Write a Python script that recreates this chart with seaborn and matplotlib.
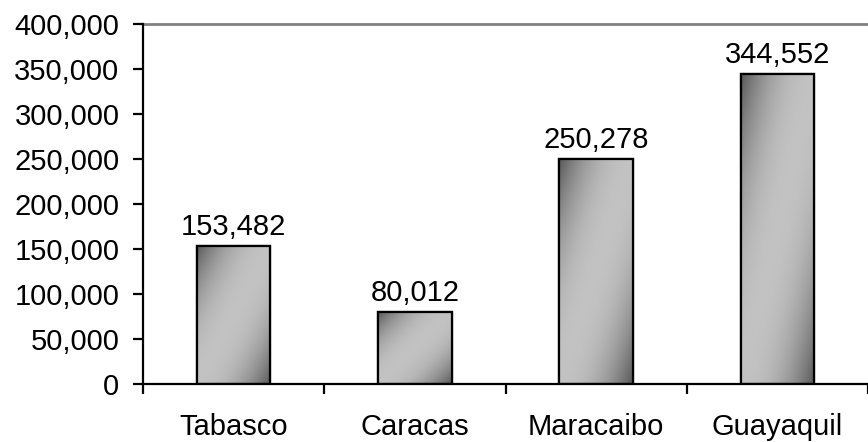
import numpy as np
import pandas as pd
import seaborn as sns
import matplotlib.pyplot as plt
from matplotlib.ticker import FuncFormatter, FixedLocator

cities = ['Tabasco', 'Caracas', 'Maracaibo', 'Guayaquil']
values = [153482, 80012, 250278, 344552]

df = pd.DataFrame({'city': cities, 'value': values})

sns.set_style('white')
plt.rcParams['font.family'] = ['Liberation Sans', 'DejaVu Sans']
plt.rcParams['text.color'] = 'black'
plt.rcParams['xtick.color'] = 'black'
plt.rcParams['ytick.color'] = 'black'

fig = plt.figure(figsize=(8.68, 4.42), dpi=100)
ax = fig.add_axes([143 / 868, 1 - 384 / 442, 725 / 868, 360 / 442])

sns.barplot(data=df, x='city', y='value', ax=ax, width=0.405,
            color='#c0c0c0', edgecolor='black', linewidth=1.6, zorder=2)

# diagonal gradient fill: dark at top-left and bottom-right, light in the middle
n = 200
u, v = np.meshgrid(np.linspace(0, 1, n), np.linspace(1, 0, n))
t = (u + (1 - v)) / 2
f = 1 - np.abs(2 * t - 1) ** 2.2
grad = 0.34 + (0.76 - 0.34) * f
for bar in ax.patches:
    x0, y0 = bar.get_x(), bar.get_y()
    w, h = bar.get_width(), bar.get_height()
    im = ax.imshow(grad, cmap='gray', vmin=0, vmax=1, aspect='auto',
                   extent=[x0, x0 + w, y0, y0 + h], zorder=2.5,
                   interpolation='bilinear')
    im.set_clip_path(bar)
    ax.add_patch(plt.Rectangle((x0, y0), w, h, fill=False,
                               edgecolor='black', linewidth=1.6, zorder=3))

for i, val in enumerate(values):
    ax.text(i, val + 5000, f'{val:,}', ha='center', va='bottom', fontsize=21)

ax.set_xlim(-0.5, 3.5)
ax.set_ylim(0, 400000)
ax.set_yticks(range(0, 400001, 50000))
ax.yaxis.set_major_formatter(FuncFormatter(lambda y, p: f'{int(y):,}'))
ax.axhline(400000, color='#808080', linewidth=2, zorder=1, clip_on=False)

ax.set_xlabel('')
ax.set_ylabel('')
ax.xaxis.set_minor_locator(FixedLocator([-0.5, 0.5, 1.5, 2.5, 3.5]))
ax.tick_params(axis='x', which='major', length=0, pad=21, labelsize=21)
ax.tick_params(axis='x', which='minor', length=7, width=1.6, direction='out',
               bottom=True, color='black')
ax.tick_params(axis='y', length=7, width=1.6, direction='out', left=True,
               pad=10, labelsize=21, color='black')

for side in ['top', 'right']:
    ax.spines[side].set_visible(False)
for side in ['left', 'bottom']:
    ax.spines[side].set_color('black')
    ax.spines[side].set_linewidth(1.6)

fig.savefig('out.png', dpi=100)
